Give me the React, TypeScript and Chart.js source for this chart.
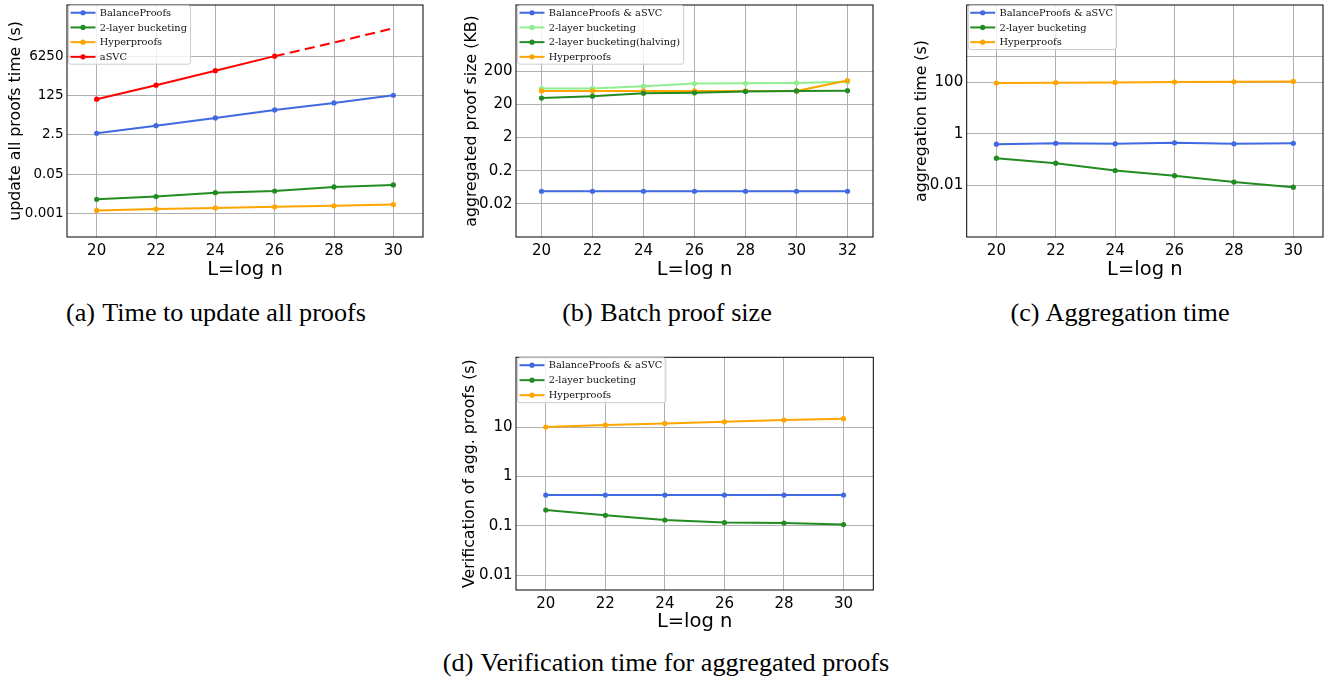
// Four log-scale line panels (a)-(d) with LaTeX-style captions underneath.
// Each panel is its own Chart.js canvas placed absolutely on a 1333x682 page.

import { useEffect, useRef } from 'react';
import { Chart, registerables } from 'chart.js';

Chart.register(...registerables);

const BLUE = '#4169e1';
const GREEN = '#228b22';
const LIGHTGREEN = '#90ee90';
const ORANGE = '#ffa500';
const RED = '#ff0000';

// L = log n
const xsTo30 = [20, 22, 24, 26, 28, 30];
const xsTo32 = [20, 22, 24, 26, 28, 30, 32];

// (a) time to update all proofs (s)
const updBalance = [2.95, 6.3, 13.6, 30, 60, 129];
const updBucketing = [0.0042, 0.0055, 0.0081, 0.0096, 0.0144, 0.0175];
const updHyper = [0.0014, 0.0016, 0.0018, 0.002, 0.0022, 0.0025];
const updAsvc = [87, 350, 1470, 6250, 24000, 99000];
const updTicks = [0.001, 0.05, 2.5, 125, 6250];
const updTickLabels = ['0.001', '0.05', '2.5', '125', '6250'];

// (b) aggregated proof size (KB)
const sizeBalance = [0.048, 0.048, 0.048, 0.048, 0.048, 0.048, 0.048];
const sizeBucketing = [60, 61, 71, 85, 87, 89, 96];
const sizeHalving = [31, 35.6, 43.7, 44.8, 49, 51, 52];
const sizeHyper = [51, 51, 51, 51, 51, 51, 105];
const sizeTicks = [0.02, 0.2, 2, 20, 200];
const sizeTickLabels = ['0.02', '0.2', '2', '20', '200'];

// (c) aggregation time (s)
const aggBalance = [0.4, 0.43, 0.41, 0.45, 0.41, 0.43];
const aggBucketing = [0.114, 0.073, 0.038, 0.024, 0.0135, 0.0086];
const aggHyper = [94, 97, 99, 102, 105, 108];
const aggTicks = [0.01, 1, 100, 1000];
const aggTickLabels = ['0.01', '1', '100', ''];

// (d) verification of aggregated proofs (s)
const verBalance = [0.42, 0.42, 0.42, 0.42, 0.42, 0.42];
const verBucketing = [0.209, 0.163, 0.131, 0.116, 0.114, 0.106];
const verHyper = [10, 11, 11.9, 12.8, 13.9, 14.8];
const verTicks = [0.01, 0.1, 1, 10];
const verTickLabels = ['0.01', '0.1', '1', '10'];

type Series = { label: string; values: number[]; color: string; z?: number; dashAfter?: number };

type PanelSpec = {
  left: number;
  top: number;
  width: number;
  height: number;
  padTop: number;
  padRight: number;
  yWidth: number;
  xHeight: number;
  yTitlePad: number;
  xTitlePad: number;
  yTickSize: number;
  xs: number[];
  xMin: number;
  xMax: number;
  yMin: number;
  yMax: number;
  yTicks: number[];
  yLabels: string[];
  yTitle: string;
  rowH: number;
  series: Series[];
};

const SANS = 'DejaVu Sans';
const GRID = '#b0b0b0';

// spines on all four sides, then the boxed legend in the upper-left corner
const frameLegend = {
  id: 'frameLegend',
  afterDatasetsDraw(chart: Chart, _args: unknown, opts: { rowH: number }) {
    const { ctx, chartArea: a } = chart;
    ctx.save();
    ctx.strokeStyle = '#000';
    ctx.lineWidth = 1;
    ctx.strokeRect(a.left, a.top, a.right - a.left, a.bottom - a.top);

    const sets = chart.data.datasets as any[];
    ctx.font = '9.8px "DejaVu Serif"';
    const tw = Math.max(...sets.map((d) => ctx.measureText(d.label).width));
    const bx = a.left + 1.6;
    const by = a.top + 0.4;
    const bw = 31.2 + tw + 3.6;
    const bh = sets.length * opts.rowH;
    ctx.beginPath();
    ctx.roundRect(bx, by, bw, bh, 2.5);
    ctx.fillStyle = 'rgba(255,255,255,0.8)';
    ctx.fill();
    ctx.strokeStyle = '#cccccc';
    ctx.lineWidth = 1;
    ctx.stroke();

    sets.forEach((d, i) => {
      const cy = by + opts.rowH * (i + 0.5);
      ctx.strokeStyle = d.borderColor;
      ctx.lineWidth = 2;
      ctx.beginPath();
      ctx.moveTo(a.left + 3.5, cy);
      ctx.lineTo(a.left + 28.5, cy);
      ctx.stroke();
      ctx.fillStyle = d.borderColor;
      ctx.beginPath();
      ctx.arc(a.left + 16, cy, 2.6, 0, Math.PI * 2);
      ctx.fill();
      ctx.fillStyle = '#111';
      ctx.textBaseline = 'middle';
      ctx.textAlign = 'left';
      ctx.fillText(d.label, a.left + 32.8, cy + 0.5);
    });
    ctx.restore();
  },
};

function buildConfig(s: PanelSpec): any {
  const n = s.series.length;
  const datasets = s.series.map((ser, i) => ({
    label: ser.label,
    data: s.xs.map((x, j) => ({ x, y: ser.values[j] })),
    borderColor: ser.color,
    backgroundColor: ser.color,
    pointBackgroundColor: ser.color,
    borderWidth: 2,
    pointRadius: ser.dashAfter == null ? 2.6 : (ctx: any) => (s.xs[ctx.dataIndex] > ser.dashAfter! ? 0 : 2.6),
    pointBorderWidth: 0,
    pointHoverRadius: 0,
    tension: 0,
    borderJoinStyle: 'round',
    order: -(ser.z ?? i) + n,
    segment:
      ser.dashAfter == null
        ? undefined
        : { borderDash: (ctx: any) => (ctx.p0.parsed.x >= ser.dashAfter! ? [10, 5.5] : undefined) },
  }));

  return {
    type: 'line',
    data: { datasets },
    plugins: [frameLegend],
    options: {
      responsive: false,
      animation: false,
      events: [],
      layout: { padding: { left: 0, top: s.padTop, right: s.padRight, bottom: 0 } },
      plugins: {
        legend: { display: false },
        tooltip: { enabled: false },
        frameLegend: { rowH: s.rowH },
      },
      scales: {
        x: {
          type: 'linear',
          min: s.xMin,
          max: s.xMax,
          afterBuildTicks: (sc: any) => {
            sc.ticks = s.xs.map((v) => ({ value: v }));
          },
          afterFit: (sc: any) => {
            sc.height = s.xHeight;
            sc.paddingLeft = 0;
            sc.paddingRight = 0;
          },
          ticks: {
            autoSkip: false,
            maxRotation: 0,
            padding: 5.5,
            color: '#000',
            font: { family: SANS, size: 15 },
            callback: (v: number) => String(v),
          },
          grid: { color: GRID, lineWidth: 1, drawTicks: false },
          border: { display: false },
          title: {
            display: true,
            text: 'L=log n',
            color: '#000',
            font: { family: SANS, size: 19.5 },
            padding: { top: 0, bottom: s.xTitlePad },
          },
        },
        y: {
          type: 'logarithmic',
          min: s.yMin,
          max: s.yMax,
          afterBuildTicks: (sc: any) => {
            sc.ticks = s.yTicks.map((v) => ({ value: v }));
          },
          afterFit: (sc: any) => {
            sc.width = s.yWidth;
            sc.paddingTop = 0;
            sc.paddingBottom = 0;
          },
          ticks: {
            autoSkip: false,
            padding: 3.5,
            color: '#000',
            font: { family: SANS, size: s.yTickSize },
            callback: (_v: number, i: number) => s.yLabels[i],
          },
          grid: { color: GRID, lineWidth: 1, drawTicks: false },
          border: { display: false },
          title: {
            display: true,
            text: s.yTitle,
            color: '#000',
            font: { family: SANS, size: 15.8 },
            padding: { top: s.yTitlePad, bottom: 0 },
          },
        },
      },
    },
  };
}

const panels: PanelSpec[] = [
  {
    left: 0, top: 0, width: 440, height: 290, padTop: 5, padRight: 17,
    yWidth: 67, xHeight: 53, yTitlePad: 6.5, xTitlePad: 8.8, yTickSize: 13.5,
    xs: xsTo30, xMin: 19, xMax: 31, yMin: 1e-4, yMax: 1e6,
    yTicks: updTicks, yLabels: updTickLabels, yTitle: 'update all proofs time (s)', rowH: 14.7,
    series: [
      { label: 'BalanceProofs', values: updBalance, color: BLUE },
      { label: '2-layer bucketing', values: updBucketing, color: GREEN },
      { label: 'Hyperproofs', values: updHyper, color: ORANGE },
      { label: 'aSVC', values: updAsvc, color: RED, dashAfter: 26 },
    ],
  },
  {
    left: 440, top: 0, width: 440, height: 290, padTop: 5, padRight: 7,
    yWidth: 76, xHeight: 53, yTitlePad: 22.2, xTitlePad: 8.8, yTickSize: 15,
    xs: xsTo32, xMin: 19, xMax: 33, yMin: 0.002, yMax: 20000,
    yTicks: sizeTicks, yLabels: sizeTickLabels, yTitle: 'aggregated proof size (KB)', rowH: 14.7,
    series: [
      { label: 'BalanceProofs & aSVC', values: sizeBalance, color: BLUE, z: 0 },
      { label: '2-layer bucketing', values: sizeBucketing, color: LIGHTGREEN, z: 1 },
      { label: '2-layer bucketing(halving)', values: sizeHalving, color: GREEN, z: 3 },
      { label: 'Hyperproofs', values: sizeHyper, color: ORANGE, z: 2 },
    ],
  },
  {
    left: 890, top: 0, width: 443, height: 290, padTop: 5, padRight: 10,
    yWidth: 76.7, xHeight: 53, yTitlePad: 22.2, xTitlePad: 8.8, yTickSize: 15,
    xs: xsTo30, xMin: 19, xMax: 31, yMin: 1e-4, yMax: 1e5,
    yTicks: aggTicks, yLabels: aggTickLabels, yTitle: 'aggregation time (s)', rowH: 14.7,
    series: [
      { label: 'BalanceProofs & aSVC', values: aggBalance, color: BLUE },
      { label: '2-layer bucketing', values: aggBucketing, color: GREEN },
      { label: 'Hyperproofs', values: aggHyper, color: ORANGE },
    ],
  },
  {
    left: 450, top: 350, width: 440, height: 290, padTop: 7.3, padRight: 16.7,
    yWidth: 66, xHeight: 50, yTitlePad: 10.5, xTitlePad: 6.4, yTickSize: 15,
    xs: xsTo30, xMin: 19, xMax: 31, yMin: 0.005, yMax: 260,
    yTicks: verTicks, yLabels: verTickLabels, yTitle: 'Verification of agg. proofs (s)', rowH: 15,
    series: [
      { label: 'BalanceProofs & aSVC', values: verBalance, color: BLUE },
      { label: '2-layer bucketing', values: verBucketing, color: GREEN },
      { label: 'Hyperproofs', values: verHyper, color: ORANGE },
    ],
  },
];

const captions = [
  { tag: '(a)', text: 'Time to update all proofs', center: 216, top: 300 },
  { tag: '(b)', text: 'Batch proof size', center: 667, top: 300 },
  { tag: '(c)', text: 'Aggregation time', center: 1120, top: 300 },
  { tag: '(d)', text: 'Verification time for aggregated proofs', center: 666, top: 650 },
];

function Panel({ spec }: { spec: PanelSpec }) {
  const canvasRef = useRef<HTMLCanvasElement>(null);

  useEffect(() => {
    const canvas = canvasRef.current;
    if (!canvas) return;
    const chart = new Chart(canvas, buildConfig(spec));
    return () => chart.destroy();
  }, [spec]);

  return (
    <canvas
      ref={canvasRef}
      width={spec.width}
      height={spec.height}
      style={{ position: 'absolute', left: spec.left, top: spec.top, width: spec.width, height: spec.height }}
    />
  );
}

export default function App() {
  useEffect(() => {
    document.body.style.margin = '0';
  }, []);

  return (
    <div style={{ position: 'relative', width: 1333, height: 682, background: '#fff', overflow: 'hidden' }}>
      {panels.map((p, i) => (
        <Panel key={i} spec={p} />
      ))}
      {captions.map((c) => (
        <div
          key={c.tag}
          style={{
            position: 'absolute',
            left: c.center - 300,
            width: 600,
            top: c.top,
            textAlign: 'center',
            whiteSpace: 'nowrap',
            fontFamily: '"Liberation Serif", serif',
            fontSize: 26.2,
            lineHeight: '26px',
            color: '#000',
          }}
        >
          <span style={{ marginRight: 1 }}>{c.tag}</span> {c.text}
        </div>
      ))}
    </div>
  );
}
